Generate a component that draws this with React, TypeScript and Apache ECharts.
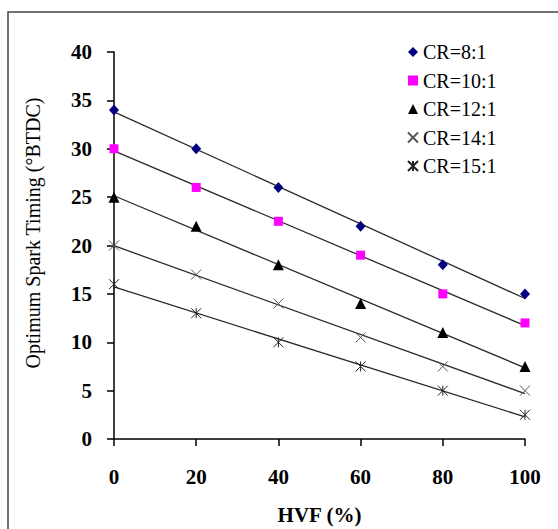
import React, { useEffect, useRef } from "react";
import * as echarts from "echarts";

const HVF = [0, 20, 40, 60, 80, 100];
const CR8 = [34, 30, 26, 22, 18, 15];
const CR10 = [30, 26, 22.5, 19, 15, 12];
const CR12 = [25, 22, 18, 14, 11, 7.5];
const CR14 = [20, 17, 14, 10.5, 7.5, 5];
const CR15 = [16, 13, 10, 7.5, 5, 2.5];
const SERIES_NAMES = ["CR=8:1", "CR=10:1", "CR=12:1", "CR=14:1", "CR=15:1"];
const X_TICKS = [0, 20, 40, 60, 80, 100];
const Y_TICKS = [0, 5, 10, 15, 20, 25, 30, 35, 40];

const FONT = "'Liberation Serif', 'Times New Roman', serif";

function trend(xs: number[], ys: number[]): number[][] {
  const n = xs.length;
  const mx = xs.reduce((a, b) => a + b, 0) / n;
  const my = ys.reduce((a, b) => a + b, 0) / n;
  let sxy = 0;
  let sxx = 0;
  for (let i = 0; i < n; i++) {
    sxy += (xs[i] - mx) * (ys[i] - my);
    sxx += (xs[i] - mx) * (xs[i] - mx);
  }
  const b = sxy / sxx;
  const a = my - b * mx;
  const x0 = xs[0];
  const x1 = xs[n - 1];
  return [
    [x0, a + b * x0],
    [x1, a + b * x1],
  ];
}

export default function App() {
  const ref = useRef<HTMLDivElement>(null);
  useEffect(() => {
    if (!ref.current) return;
    const chart = echarts.init(ref.current, undefined, { renderer: "svg" });
    const sets = [CR8, CR10, CR12, CR14, CR15];
    const markers: any[] = [
      { symbol: "diamond", size: [10, 11], color: "#000080", border: 0 },
      { symbol: "rect", size: 9, color: "#FF00FF", border: 0 },
      { symbol: "triangle", size: 11, color: "#000000", border: 0 },
      { symbol: "path://M0,0L10,10M10,0L0,10", size: 10, color: "#555555", border: 1 },
      { symbol: "path://M0,0L10,10M10,0L0,10M5,0L5,10", size: 10, color: "#222222", border: 1 },
    ];
    const scatterSeries = sets.map((ys, i) => ({
      name: SERIES_NAMES[i],
      type: "scatter",
      z: 5,
      symbol: markers[i].symbol,
      symbolSize: markers[i].size,
      itemStyle: {
        color: markers[i].color,
        borderColor: markers[i].color,
        borderWidth: markers[i].border,
        opacity: 1,
      },
      data: HVF.map((x, j) => [x, ys[j]]),
    }));
    const lineSeries = sets.map((ys, i) => ({
      name: SERIES_NAMES[i] + " trend",
      type: "line",
      z: 2,
      symbol: "none",
      lineStyle: { color: "#2a2a2a", width: 1.3 },
      data: trend(HVF, ys),
    }));
    chart.setOption({
      animation: false,
      backgroundColor: "#ffffff",
      grid: {
        left: 114,
        right: 33,
        top: 52,
        bottom: 90,
        containLabel: false,
        outerBoundsMode: "none",
      },
      legend: {
        data: SERIES_NAMES,
        orient: "vertical",
        left: 402,
        top: 37,
        itemWidth: 10,
        itemHeight: 10,
        itemGap: 8.5,
        textStyle: { fontFamily: FONT, fontSize: 20, color: "#000", lineHeight: 20 },
      },
      xAxis: {
        type: "value",
        min: X_TICKS[0],
        max: X_TICKS[X_TICKS.length - 1],
        interval: X_TICKS[1] - X_TICKS[0],
        name: "HVF (%)",
        nameLocation: "middle",
        nameGap: 65,
        nameTextStyle: { fontFamily: FONT, fontSize: 21, fontWeight: "bold", color: "#000" },
        axisLine: { lineStyle: { color: "#000", width: 1.5 } },
        axisTick: { inside: false, length: 7, lineStyle: { color: "#000", width: 1.5 } },
        axisLabel: { margin: 27, fontFamily: FONT, fontSize: 21, fontWeight: "bold", color: "#000" },
        splitLine: { show: false },
      },
      yAxis: {
        type: "value",
        min: Y_TICKS[0],
        max: Y_TICKS[Y_TICKS.length - 1],
        interval: Y_TICKS[1] - Y_TICKS[0],
        axisLine: { show: true, lineStyle: { color: "#000", width: 1.5 } },
        axisTick: { show: true, inside: false, length: 7, lineStyle: { color: "#000", width: 1.5 } },
        axisLabel: { margin: 22, fontFamily: FONT, fontSize: 21, fontWeight: "bold", color: "#000" },
        splitLine: { show: false },
      },
      graphic: [
        {
          type: "rect",
          shape: { x: 8, y: 12, width: 620, height: 620 },
          style: { fill: "none", stroke: "#444", lineWidth: 1.5 },
          silent: true,
        },
        {
          type: "text",
          x: 33,
          y: 233,
          rotation: Math.PI / 2,
          style: {
            text: "Optimum Spark Timing (°BTDC)",
            fontFamily: FONT,
            fontSize: 20,
            fill: "#000",
            align: "center",
            verticalAlign: "middle",
          },
        },
      ],
      series: [...lineSeries, ...scatterSeries],
    });
    return () => chart.dispose();
  }, []);
  return (
    <div
      ref={ref}
      style={{ position: "absolute", left: 0, top: 0, width: 558, height: 529 }}
    />
  );
}
